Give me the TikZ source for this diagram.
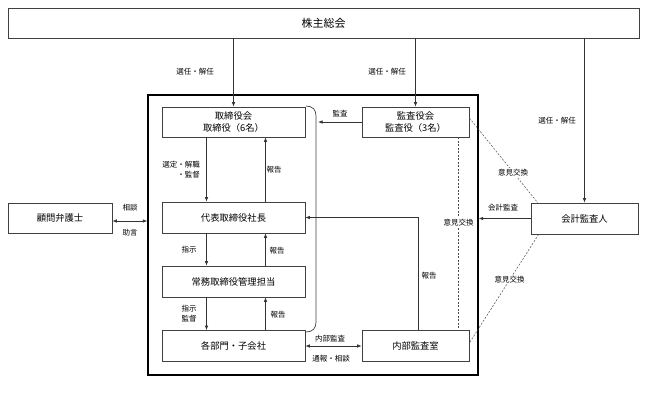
\documentclass[tikz,border=0pt]{standalone}
\usepackage{fontspec}
\setmainfont{Noto Sans CJK JP}
\usetikzlibrary{arrows.meta}

\begin{document}
\begin{tikzpicture}[x=1pt, y=-1pt,
  box/.style={draw=black!75, line width=0.7pt, minimum height=30pt, inner sep=1pt,
    font=\fontsize{9.3}{12}\selectfont, align=center},
  lbl/.style={font=\fontsize{7.5}{10}\selectfont, inner sep=1pt, align=center},
  arr/.style={draw=black!80, line width=0.7pt, -{Latex[length=4.5pt,width=3.5pt]}},
  twoway/.style={draw=black!80, line width=0.7pt, {Latex[length=4.5pt,width=3.5pt]}-{Latex[length=4.5pt,width=3.5pt]}},
  dotline/.style={draw=black!70, line width=0.5pt, dash pattern=on 2pt off 1.5pt}]
  \useasboundingbox (0, 0) rectangle (647, 393);

  \node [box, minimum width=631pt, font=\fontsize{11}{13}\selectfont] at (323.5, 23) (gm) {株主総会};
  \node [draw, line width=1.4pt, minimum width=330pt, minimum height=280pt] at (313, 235) (frame) {};
  \node [box, minimum width=143pt] at (233.5, 122) (board) {取締役会\\取締役（6名）};
  \node [box, minimum width=107pt] at (415.5, 122) (kansa) {監査役会\\監査役（3名）};
  \node [box, minimum width=143pt, minimum height=31pt] at (233.5, 217.5) (pres) {代表取締役社長};
  \node [box, minimum width=143pt, minimum height=31pt] at (233.5, 281.5) (exec) {常務取締役管理担当};
  \node [box, minimum width=143pt, minimum height=31pt] at (233.5, 346) (dept) {各部門・子会社};
  \node [box, minimum width=107pt, minimum height=31pt] at (415.5, 346) (audit) {内部監査室};
  \node [box, minimum width=104pt] at (60, 218) (lawyer) {顧問弁護士};
  \node [box, minimum width=107pt, minimum height=31pt] at (584.5, 218.5) (acct) {会計監査人};

  % shareholders appoint
  \draw [arr] (gm.south -| board.north) -- (board.north);
  \draw [arr] (gm.south -| kansa.north) -- (kansa.north);
  \draw [arr] (gm.south -| acct.north) -- (acct.north);
  \node [lbl] at (195, 72) (selA) {選任・解任};
  \node [lbl] at (387, 72) (selB) {選任・解任};
  \node [lbl] at (557, 121) (selC) {選任・解任};

  % chain of command
  \draw [arr] ([xshift=-27pt]board.south) -- ([xshift=-27pt]pres.north);
  \draw [arr] ([xshift=32pt]pres.north) -- ([xshift=32pt]board.south);
  \draw [arr] ([xshift=-27pt]pres.south) -- ([xshift=-27pt]exec.north);
  \draw [arr] ([xshift=32pt]exec.north) -- ([xshift=32pt]pres.south);
  \draw [arr] ([xshift=-27pt]exec.south) -- ([xshift=-27pt]dept.north);
  \draw [arr] ([xshift=32pt]dept.north) -- ([xshift=32pt]exec.south);
  \node [lbl, anchor=east, align=right] at (201, 170) (appoint) {選定・解職\\・監督};
  \node [lbl] at (274, 170) (repA) {報告};
  \node [lbl] at (189, 250) (instA) {指示};
  \node [lbl] at (277, 251) (repB) {報告};
  \node [lbl] at (189, 314) (instB) {指示\\監督};
  \node [lbl] at (278, 315) (repC) {報告};

  % bracket round the executive side
  \coordinate (brk) at (318, 122);
  \draw [draw=black!75, line width=0.7pt] (306, 106) .. controls (313, 106) and (316, 110) .. (316, 116)
    -- (316, 322) .. controls (316, 328) and (313, 332) .. (306, 332);
  \draw [arr] (kansa.west) -- (brk);
  \node [lbl] at (340, 114) (kansaL) {監査};

  % internal audit
  \draw [arr] ([xshift=2.5pt]audit.north) |- (pres.east);
  \node [lbl] at (429, 276) (repD) {報告};
  \draw [twoway] (dept.east) -- (audit.west);
  \node [lbl] at (330, 339) (iaL) {内部監査};
  \node [lbl] at (331, 359) (consult) {通報・相談};

  % outside parties
  \coordinate (lawR) at ([yshift=-3pt]lawyer.east);
  \draw [twoway] (lawR) -- (lawR -| frame.west);
  \node [lbl] at (130, 208) (soudan) {相談};
  \node [lbl] at (130, 233) (jogen) {助言};
  \draw [arr] (acct.west) -- (acct.west -| frame.east);
  \node [lbl] at (503, 208) (acctL) {会計監査};

  % exchange of views
  \draw [dotline] ([xshift=43pt]kansa.south) -- node [lbl, fill=white, pos=0.44] (opA) {意見交換} ([xshift=43pt]audit.north);
  \draw [dotline] ([yshift=4pt]kansa.east) -- node [lbl, fill=white, pos=0.64] (opB) {意見交換} ([xshift=7pt]acct.north west);
  \draw [dotline] ([xshift=8pt]acct.south west) -- node [lbl, fill=white, pos=0.42] (opC) {意見交換} ([yshift=3pt]audit.east);
\end{tikzpicture}
\end{document}
